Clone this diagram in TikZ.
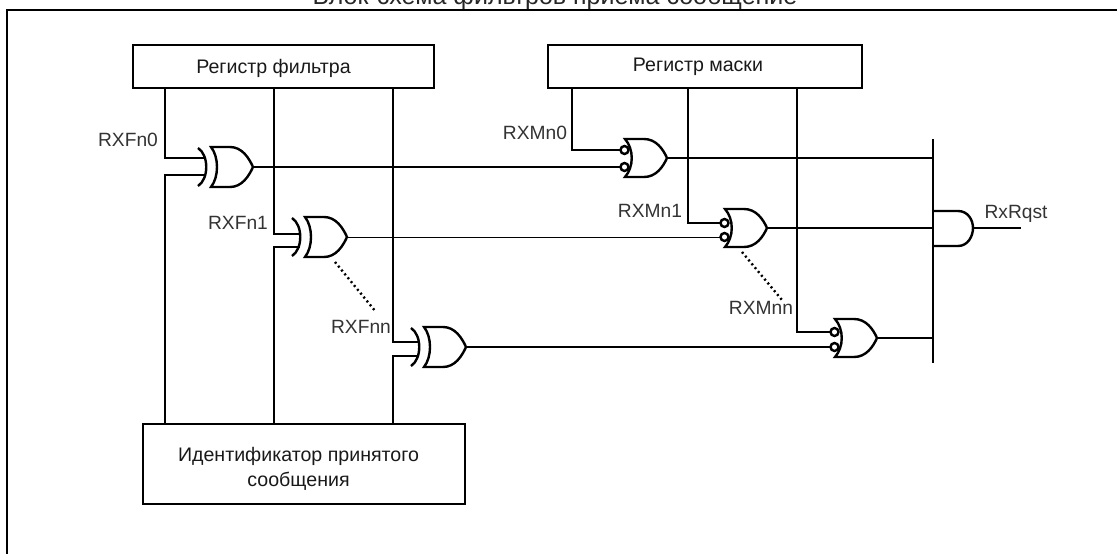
\documentclass[tikz,border=0pt]{standalone}
\usepackage{fontspec}
\setmainfont{Liberation Sans}
\usetikzlibrary{calc}
\tikzset{
  xorgate/.pic={
    \coordinate (-out) at (0,0);
    \draw (-55,-19) .. controls (-44,-12) and (-44,12) .. (-55,19);
    \draw (-42,-20) .. controls (-34,-10) and (-34,10) .. (-42,20) -- (-23,20)
      .. controls (-11,20) and (-4,9) .. (0,0) .. controls (-4,-9) and (-11,-20) .. (-23,-20) -- cycle;
  },
  orgate/.pic={
    \coordinate (-out) at (0,0);
    \coordinate (-a) at (-46,#1);
    \coordinate (-b) at (-46,9);
    \draw (-42,-19) .. controls (-33,-9) and (-33,9) .. (-42,19) -- (-23,19)
      .. controls (-11,19) and (-4,9) .. (0,0) .. controls (-4,-9) and (-11,-19) .. (-23,-19) -- cycle;
    \draw[fill=white] (-42.5,#1) circle (4);
    \draw[fill=white] (-42.5,9) circle (4);
  },
  andgate/.pic={
    \coordinate (-out) at (0,0);
    \draw (-40,-17) -- (-15,-17) .. controls (-5,-17) and (0,-8) .. (0,0)
      .. controls (0,8) and (-5,18) .. (-15,18) -- (-40,18);
  }
}
\begin{document}
\begin{tikzpicture}[x=1pt,y=-1pt,line width=2.4pt]
\tikzstyle{regbox} = [draw, rectangle, inner sep=0pt, align=center, font=\fontsize{19.6}{25}\selectfont, text=black!90]
\tikzstyle{lbl} = [inner sep=0pt, font=\fontsize{19.2}{20}\selectfont, text=black!80]
\useasboundingbox (0,0) rectangle (1117,554);
% frame and title
\coordinate (FB) at (7,554);
\coordinate (FL) at (7,10);
\coordinate (FR) at (1117,10);
\draw (FB) -- (FL) -- (FR);
\node[inner sep=0pt, anchor=base, font=\fontsize{25}{27}\selectfont, text=black!85] (title) at (555,5) {Блок-схема фильтров приема сообщение};
% registers
\node[regbox, minimum width=301pt, minimum height=43pt] (filter) at (283.5,66.5) {\hspace*{-20pt}\rule{0pt}{19pt}Регистр фильтра};
\node[regbox, minimum width=314pt, minimum height=43pt] (mask) at (705,66.5) {\hspace*{-14pt}Регистр маски};
\node[regbox, minimum width=322pt, minimum height=80pt] (ident) at (304,464) {\hspace*{-11pt}\rule{0pt}{23pt}Идентификатор принятого\\\hspace*{-11pt}сообщения};
% gates
\pic (xor0) at (253,167) {xorgate};
\pic (xor1) at (347,237) {xorgate};
\pic (xorn) at (466,347) {xorgate};
\pic (or0) at (667,158) {orgate=-8};
\pic (or1) at (767,228) {orgate=-5};
\pic (orn) at (877,338) {orgate=-6};
\pic (and) at (973,228) {andgate};
% ends of the vertical lines
\coordinate (F0) at (165,88);
\coordinate (F1) at (274,88);
\coordinate (F2) at (393,88);
\coordinate (I0) at (165,424);
\coordinate (I1) at (274,424);
\coordinate (I2) at (393,424);
\coordinate (M0) at (572,88);
\coordinate (M1) at (688,88);
\coordinate (M2) at (797,88);
\coordinate (BT) at (933,139);
\coordinate (BB) at (933,363);
\coordinate (RX) at (1021,228);
% filter side
\draw (F0) |- ($(xor0-out)+(-47,-9)$);
\draw ($(xor0-out)+(-47,8)$) -| (I0);
\draw (F1) |- ($(xor1-out)+(-47,-3)$);
\draw ($(xor1-out)+(-47,10)$) -| (I1);
\draw (F2) |- ($(xorn-out)+(-47,-5)$);
\draw ($(xorn-out)+(-47,9)$) -| (I2);
% mask side
\draw (M0) |- (or0-a);
\draw (M1) |- (or1-a);
\draw (M2) |- (orn-a);
\draw (xor0-out) -- (or0-b);
\draw[line width=1pt] (xor1-out) -- (or1-b);
\draw (xorn-out) -- (orn-b);
% output
\draw (BT) -- (BB);
\draw (or0-out) -- (or0-out -| BT);
\draw (or1-out) -- (or1-out -| BT);
\draw (orn-out) -- (orn-out -| BT);
\draw (and-out) -- (RX);
% dots between the gates
\coordinate (DA) at (335,262);
\coordinate (DB) at (376,312);
\coordinate (DC) at (742,252);
\coordinate (DD) at (782,300);
\draw[dash pattern=on 2pt off 3pt] (DA) -- (DB);
\draw[dash pattern=on 2pt off 3pt] (DC) -- (DD);
% labels
\node[lbl] (rxf0) at (128,140) {RXFn0};
\node[lbl] (rxf1) at (238,223) {RXFn1};
\node[lbl] (rxfn) at (361,327) {RXFnn};
\node[lbl] (rxm0) at (535,133) {RXMn0};
\node[lbl] (rxm1) at (650,211) {RXMn1};
\node[lbl] (rxmn) at (761,308) {RXMnn};
\node[lbl] (rxrq) at (1016,214) {RxRqst};
\end{tikzpicture}
\end{document}
